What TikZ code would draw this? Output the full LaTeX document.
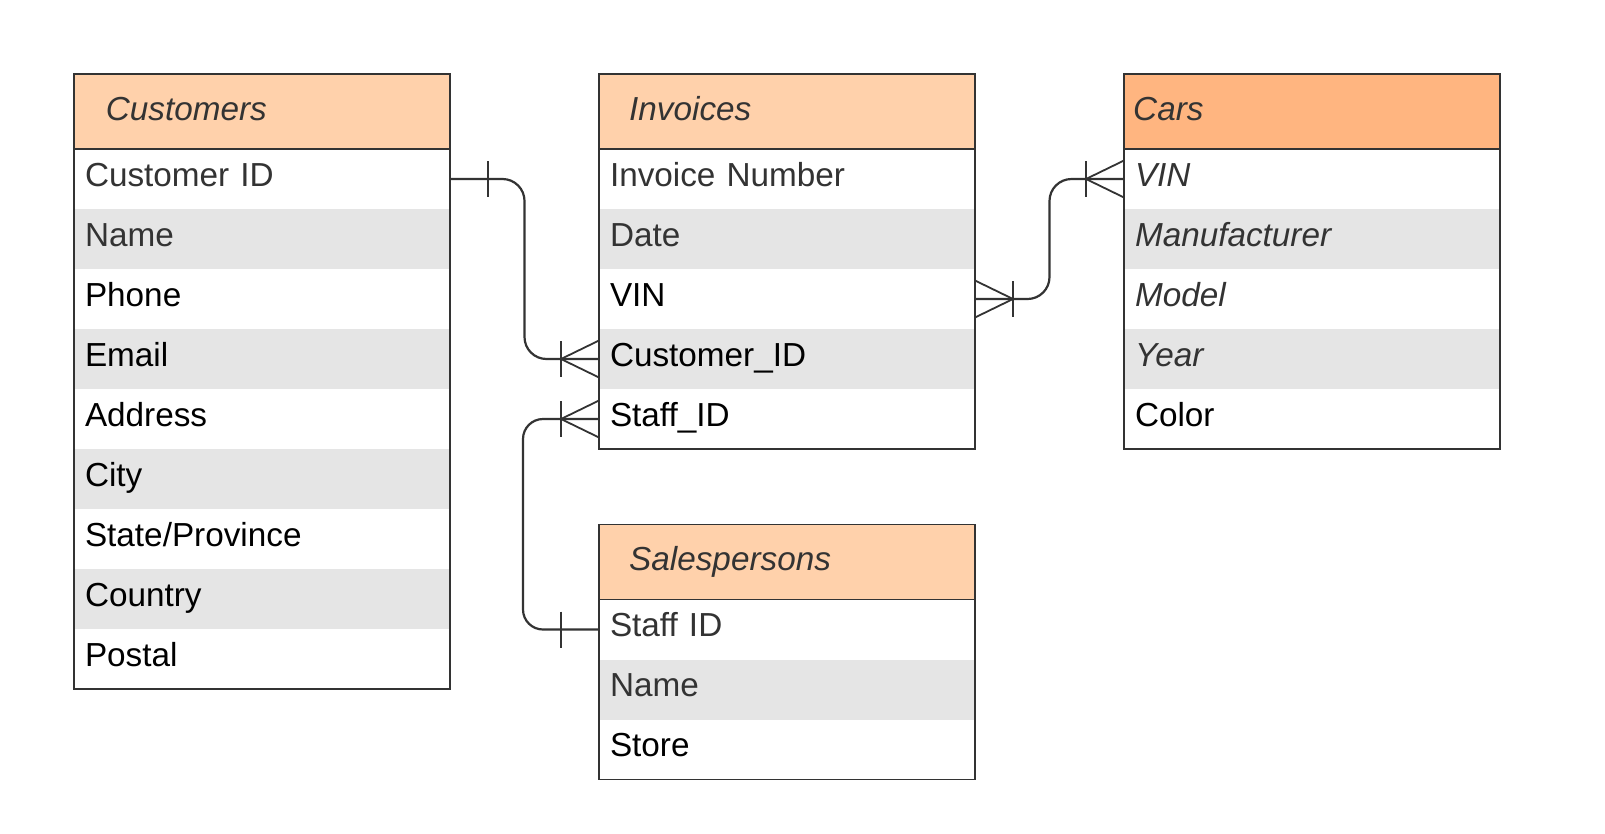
\documentclass[tikz,border=0pt]{standalone}
\usepackage{fontspec}
\setmainfont{Liberation Sans}
\usetikzlibrary{calc}
\definecolor{hdrlight}{HTML}{FFD1AB}
\definecolor{hdrdark}{HTML}{FFB580}
\definecolor{rowgray}{HTML}{E5E5E5}
\definecolor{ink}{HTML}{333333}
\newcommand\tabfont{\fontsize{33.3}{40}\selectfont}
\tikzset{
  cell/.style={anchor=north west, minimum height=60pt, text width=354pt, inner xsep=11pt, inner ysep=0pt, outer sep=0pt, align=left, text height=24pt, text depth=10pt, font=\tabfont},
  oddrow/.style={cell, fill=white},
  evenrow/.style={cell, fill=rowgray},
  soft/.style={text=ink},
  hard/.style={text=black},
  slanted/.style={font=\tabfont\itshape},
  hdr/.style={anchor=north west, minimum width=376pt, minimum height=75pt, inner sep=0pt, outer sep=0pt},
  title/.style={anchor=base west, inner sep=0pt, text=ink, font=\tabfont\itshape},
  frame/.style={draw=ink, line width=1.5pt},
  conn/.style={draw=ink, line width=2.2pt},
  crowline/.style={draw=ink, line width=1.8pt}
}
\newcommand\onebar[2]{\draw[conn] ($(#1)+(#2*38,-18)$) -- ($(#1)+(#2*38,18)$);}
\newcommand\crowfoot[2]{\draw[crowline] ($(#1)+(0,-18.5)$) -- ($(#1)+(#2*38,0)$) -- ($(#1)+(0,18.5)$); \onebar{#1}{#2}}
\begin{document}
\begin{tikzpicture}[x=1pt, y=-1pt]
\useasboundingbox[fill=white] (0,0) rectangle (1605,833);

% Customers
\node[hdr, fill=hdrlight] (cusH) at (74,74) {};
\node[title] (cusT) at ($(cusH.west)+(31.7,8.5)$) {Customers};
\node[oddrow, soft] (cus1) at (cusH.south west) {Customer ID};
\node[evenrow, soft] (cus2) at (cus1.south west) {Name};
\node[oddrow, hard] (cus3) at (cus2.south west) {Phone};
\node[evenrow, hard] (cus4) at (cus3.south west) {Email};
\node[oddrow, hard] (cus5) at (cus4.south west) {Address};
\node[evenrow, hard] (cus6) at (cus5.south west) {City};
\node[oddrow, hard] (cus7) at (cus6.south west) {State/Province};
\node[evenrow, hard] (cus8) at (cus7.south west) {Country};
\node[oddrow, hard] (cus9) at (cus8.south west) {Postal};
\draw[frame] (cusH.north west) rectangle (cus9.south east);
\draw[frame] (cusH.south west) -- (cusH.south east);

% Invoices
\node[hdr, fill=hdrlight] (invH) at (599,74) {};
\node[title] (invT) at ($(invH.west)+(30,8.5)$) {Invoices};
\node[oddrow, soft] (inv1) at (invH.south west) {Invoice Number};
\node[evenrow, soft] (inv2) at (inv1.south west) {Date};
\node[oddrow, hard] (inv3) at (inv2.south west) {VIN};
\node[evenrow, hard] (inv4) at (inv3.south west) {Customer\_ID};
\node[oddrow, hard] (inv5) at (inv4.south west) {Staff\_ID};
\draw[frame] (invH.north west) rectangle (inv5.south east);
\draw[frame] (invH.south west) -- (invH.south east);

% Cars
\node[hdr, fill=hdrdark] (carH) at (1124,74) {};
\node[title] (carT) at ($(carH.west)+(9,8.5)$) {Cars};
\node[oddrow, soft, slanted] (car1) at (carH.south west) {VIN};
\node[evenrow, soft, slanted] (car2) at (car1.south west) {Manufacturer};
\node[oddrow, soft, slanted] (car3) at (car2.south west) {Model};
\node[evenrow, soft, slanted] (car4) at (car3.south west) {Year};
\node[oddrow, hard] (car5) at (car4.south west) {Color};
\draw[frame] (carH.north west) rectangle (car5.south east);
\draw[frame] (carH.south west) -- (carH.south east);

% Salespersons
\node[hdr, fill=hdrlight] (salH) at (599,524.5) {};
\node[title] (salT) at ($(salH.west)+(30,8.5)$) {Salespersons};
\node[oddrow, soft] (sal1) at (salH.south west) {Staff ID};
\node[evenrow, soft] (sal2) at (sal1.south west) {Name};
\node[oddrow, hard] (sal3) at (sal2.south west) {Store};
\draw[frame] (salH.north west) rectangle (sal3.south east);
\draw[frame] (salH.south west) -- (salH.south east);

% Connectors
\draw[conn, rounded corners=22pt] (cus1.east) -| ($(cus1.east)!.5!(inv4.west)$) |- (inv4.west);
\onebar{cus1.east}{1}
\crowfoot{inv4.west}{-1}

\draw[conn, rounded corners=22pt] (inv3.east) -| ($(inv3.east)!.5!(car1.west)$) |- (car1.west);
\crowfoot{inv3.east}{1}
\crowfoot{car1.west}{-1}

\draw[conn, rounded corners=20pt] (inv5.west) -- ++(-76,0) |- (sal1.west);
\crowfoot{inv5.west}{-1}
\onebar{sal1.west}{-1}
\end{tikzpicture}
\end{document}
